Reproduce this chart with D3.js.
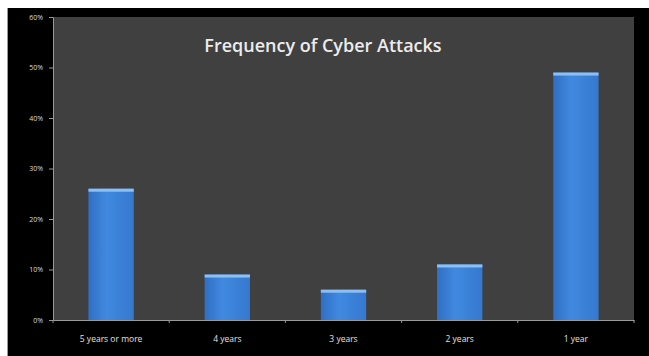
<!DOCTYPE html>
<html><head><meta charset="utf-8">
<script src="https://cdn.jsdelivr.net/npm/d3@7"></script>
<style>body{margin:0;background:#fff;}svg{display:block;}</style>
</head><body>
<script>
const categories = ["5 years or more", "4 years", "3 years", "2 years", "1 year"];
const values = [0.26, 0.09, 0.06, 0.11, 0.49];
const yTicks = [0, 0.1, 0.2, 0.3, 0.4, 0.5, 0.6];
const title = "Frequency of Cyber Attacks";

const W = 649, H = 356;
const svg = d3.select("body").append("svg").attr("width", W).attr("height", H);

svg.append("rect").attr("x", 8).attr("y", 8).attr("width", W - 8).attr("height", H - 8).attr("fill", "#000");
svg.append("line").attr("x1", 7.5).attr("x2", 7.5).attr("y1", 8).attr("y2", H).attr("stroke", "#999");

const m = {l: 53, r: 634, t: 17, b: 320};
svg.append("rect").attr("x", m.l).attr("y", m.t).attr("width", m.r - m.l).attr("height", m.b - m.t).attr("fill", "#404040");

const x = d3.scaleBand().domain(categories).range([m.l, m.r]).paddingInner(0.61).paddingOuter(0.305);
const y = d3.scaleLinear().domain([0, 0.6]).range([m.b, m.t]);

const defs = svg.append("defs");
const g = defs.append("linearGradient").attr("id", "bg").attr("x1", 0).attr("x2", 1).attr("y1", 0).attr("y2", 0);
g.append("stop").attr("offset", "0%").attr("stop-color", "#2f6fc4");
g.append("stop").attr("offset", "40%").attr("stop-color", "#4189e0");
g.append("stop").attr("offset", "100%").attr("stop-color", "#3578cf");

const bars = svg.append("g").selectAll("g").data(categories).join("g");
bars.append("rect")
  .attr("x", d => x(d)).attr("width", x.bandwidth())
  .attr("y", (d, i) => y(values[i])).attr("height", (d, i) => m.b - y(values[i]))
  .attr("fill", "url(#bg)");
bars.append("rect")
  .attr("x", d => x(d)).attr("width", x.bandwidth())
  .attr("y", (d, i) => y(values[i])).attr("height", 3)
  .attr("fill", "#8cc0f5");

const yAxis = svg.append("g").attr("transform", `translate(${m.l},0)`)
  .call(d3.axisLeft(y).tickValues(yTicks).tickFormat(d3.format(".0%")).tickSize(4).tickPadding(6));
yAxis.select(".domain").attr("stroke", "#999");
yAxis.selectAll(".tick line").attr("stroke", "#999");
yAxis.selectAll("text").attr("fill", "#ddd").style("font-family", "Open Sans, sans-serif").style("font-size", "7px");

const xAxis = svg.append("g").attr("transform", `translate(0,${m.b})`)
  .call(d3.axisBottom(x).tickSize(0).tickPadding(16));
xAxis.select(".domain").attr("stroke", "#999");
xAxis.selectAll("text").attr("fill", "#e0e0e0").style("font-family", "Open Sans, sans-serif").style("font-size", "8.5px");
const step = x.step();
svg.append("g").selectAll("line").data(d3.range(categories.length + 1)).join("line")
  .attr("x1", i => m.l + i * step).attr("x2", i => m.l + i * step)
  .attr("y1", m.b).attr("y2", m.b + 3).attr("stroke", "#999");

svg.append("text").attr("x", 323).attr("y", 52).attr("text-anchor", "middle")
  .attr("fill", "#ececec").style("font-family", "Open Sans, sans-serif").style("font-weight", "600").style("font-size", "18px")
  .text(title);
</script>
</body></html>
